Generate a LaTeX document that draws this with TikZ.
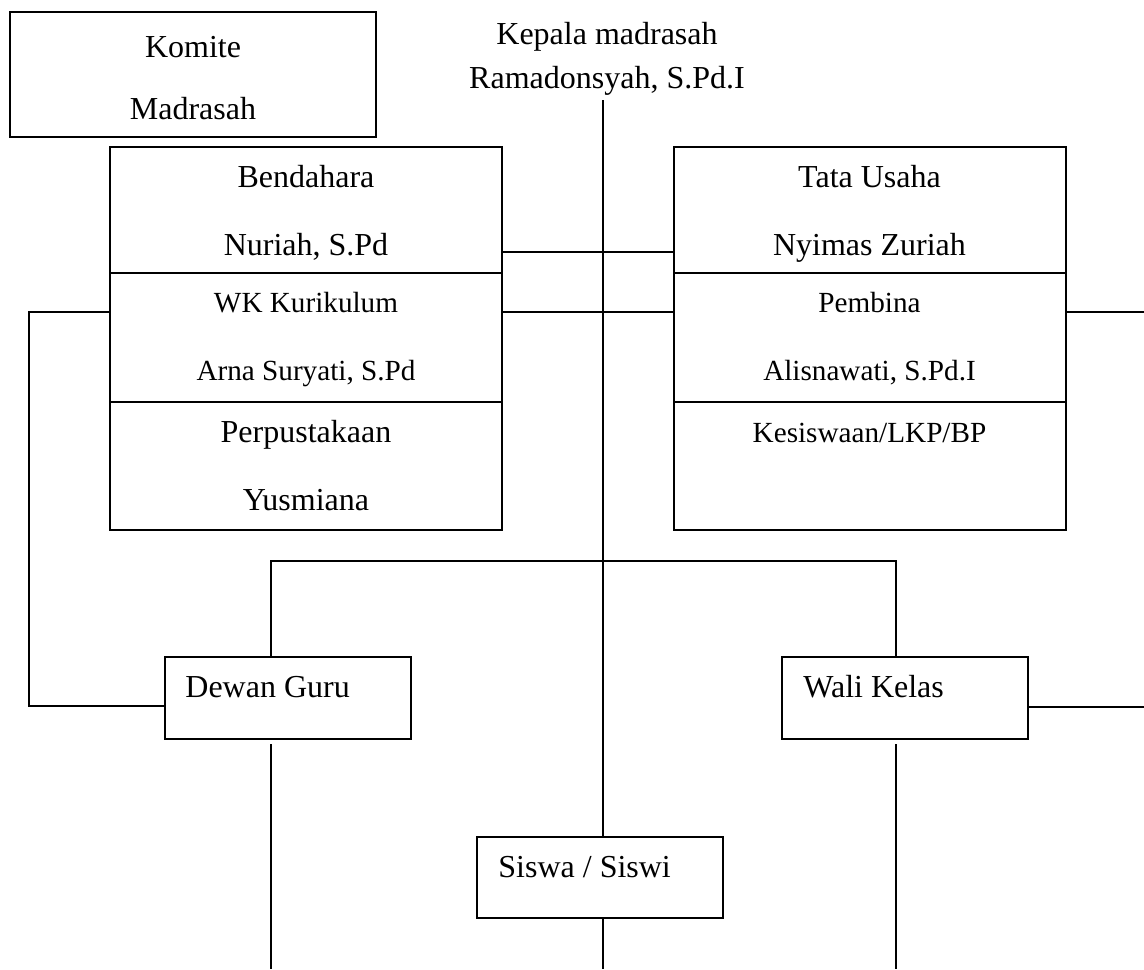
\documentclass[tikz,border=0pt]{standalone}
\usepackage{fontspec}
\setmainfont{Liberation Serif}
\usetikzlibrary{positioning}

\begin{document}
\begin{tikzpicture}[
		x=0.5pt, y=-0.5pt,
		box/.style={draw, line width=1pt, inner sep=0pt},
		stack/.style={box, minimum width=196pt},
		unit/.style={box, minimum width=123pt, minimum height=41pt},
		big/.style={font=\fontsize{16}{19}\selectfont, anchor=base, inner sep=0pt},
		small/.style={font=\fontsize{14.6}{17}\selectfont, anchor=base, inner sep=0pt},
		link/.style={line width=1pt}
		]
		
		\useasboundingbox (0,0) rectangle (1144,969);
		
		% Komite and kepala
		\node[box, minimum width=183pt, minimum height=62.5pt] (komite) at (193,74.5) {};
		\node[big] (komiteA) at (193,57) {Komite};
		\node[big] (komiteB) at (193,119) {Madrasah};
		\node[big] (kepalaA) at (607,44) {Kepala madrasah};
		\node[big] (kepala) at (607,88) {Ramadonsyah, S.Pd.I};
		
		% Left stack
		\node[stack, minimum height=63pt] (bend) at (306,210) {};
		\node[stack, minimum height=64.5pt] (wkk) at (306,337.5) {};
		\node[stack, minimum height=64pt] (pust) at (306,466) {};
		\node[big] (bendA) at (306,187) {Bendahara};
		\node[big] (bendB) at (306,255) {Nuriah, S.Pd};
		\node[small] (wkkA) at (306,312) {WK Kurikulum};
		\node[small] (wkkB) at (306,380) {Arna Suryati, S.Pd};
		\node[big] (pustA) at (306,442) {Perpustakaan};
		\node[big] (pustB) at (306,510) {Yusmiana};
		
		% Right stack
		\node[stack, minimum height=63pt] (tu) at (869.5,210) {};
		\node[stack, minimum height=64.5pt] (pemb) at (869.5,337.5) {};
		\node[stack, minimum height=64pt] (kesis) at (869.5,466) {};
		\node[big] (tuA) at (869.5,187) {Tata Usaha};
		\node[big] (tuB) at (869.5,255) {Nyimas Zuriah};
		\node[small] (pembA) at (869.5,312) {Pembina};
		\node[small] (pembB) at (869.5,380) {Alisnawati, S.Pd.I};
		\node[small] (kesisA) at (869.5,442) {Kesiswaan/LKP/BP};
		
		% Lower boxes
		\node[unit] (dewan) at (287.5,698) {};
		\node[big, anchor=base west] (dewanT) at (185,697) {Dewan Guru};
		\node[unit] (wali) at (905,698) {};
		\node[big, anchor=base west] (waliT) at (803,697) {Wali Kelas};
		\node[unit, minimum height=40.5pt] (siswa) at (600,877.5) {};
		\node[big, anchor=base west] (siswaT) at (498,877) {Siswa / Siswi};
		
		% Helper points
		\coordinate (spine) at (603,100);
		\coordinate (base) at (0,969);
		\coordinate (gl) at (271,561);
		\coordinate (gr) at (896,561);
		
		% Lines
		\draw[link] (spine) -- (spine |- siswa.north);
		\draw[link] (spine |- siswa.south) -- (spine |- base);
		\draw[link] ([yshift=11pt]bend.south east) -- ([yshift=11pt]tu.south west);
		\draw[link] ([yshift=13pt]wkk.east) -- ([yshift=13pt]pemb.west);
		\draw[link] ([yshift=13pt]wkk.west) -- ++(-80,0) |- ([yshift=-4pt]dewan.west);
		\draw[link] ([yshift=13pt]pemb.east) -- ++(80,0);
		\draw[link] ([yshift=-4.5pt]wali.east) -- ++(116,0);
		\draw[link] (gl |- dewan.north) -- (gl) -- (gr) -- (gr |- wali.north);
		\draw[link] ([yshift=-2pt]gl |- dewan.south) -- (gl |- base);
		\draw[link] ([yshift=-2pt]gr |- wali.south) -- (gr |- base);
		
	\end{tikzpicture}
\end{document}
